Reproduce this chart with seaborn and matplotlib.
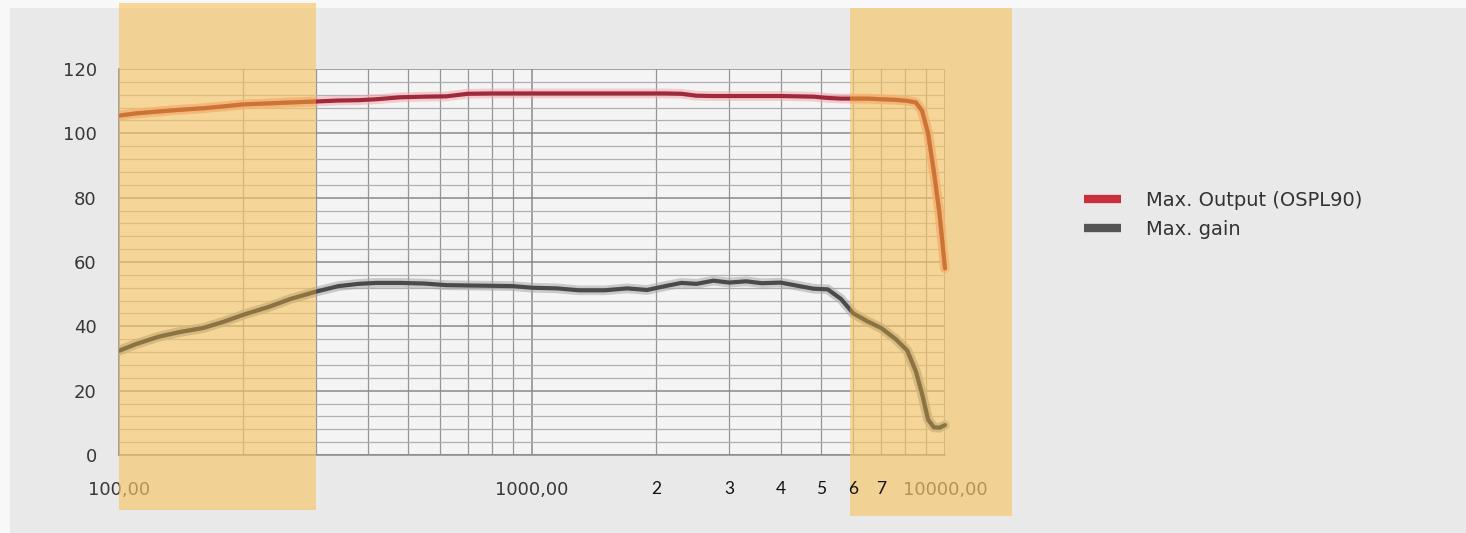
import numpy as np
import pandas as pd
import matplotlib
matplotlib.use("Agg")
import matplotlib.pyplot as plt
import matplotlib.ticker as mticker
import matplotlib.transforms as mtransforms
import matplotlib.patheffects as pe
from matplotlib.patches import Rectangle
from matplotlib.lines import Line2D
import seaborn as sns

# Frequency grid (Hz) shared by both curves
freq_hz = [100, 110, 125, 140, 160, 180, 200, 230, 260, 300, 340, 380, 420, 480,
           550, 620, 700, 800, 900, 1000, 1150, 1300, 1500, 1700, 1900, 2100,
           2300, 2500, 2750, 3000, 3300, 3600, 4000, 4400, 4800, 5200, 5600,
           6000, 6500, 7000, 7600, 8100, 8500, 8800, 9100, 9400, 9700, 10000]

# Maximum output, OSPL90 (dB SPL)
max_output = [105.5, 106.2, 106.8, 107.3, 107.8, 108.4, 109.0, 109.3, 109.6,
              109.9, 110.2, 110.3, 110.6, 111.2, 111.4, 111.5, 112.3, 112.4,
              112.4, 112.4, 112.4, 112.4, 112.4, 112.4, 112.4, 112.4, 112.3,
              111.7, 111.6, 111.6, 111.6, 111.6, 111.6, 111.5, 111.4, 111.0,
              110.8, 110.8, 110.8, 110.6, 110.4, 110.1, 109.6, 107.0, 100.0,
              88.0, 75.0, 58.0]

# Maximum gain (dB)
max_gain = [32.4, 34.5, 36.8, 38.2, 39.5, 41.5, 43.6, 46.0, 48.5, 50.8, 52.5,
            53.2, 53.5, 53.5, 53.3, 52.8, 52.7, 52.6, 52.5, 52.0, 51.8, 51.2,
            51.2, 51.8, 51.3, 52.5, 53.5, 53.2, 54.2, 53.6, 54.0, 53.4, 53.6,
            52.6, 51.7, 51.5, 48.5, 44.0, 41.5, 39.5, 36.0, 32.5, 26.0, 19.0,
            11.0, 8.6, 8.5, 9.3]

series_names = ["Max. Output (OSPL90)", "Max. gain"]
series_colors = ["#a02a3c", "#4a4a4a"]
series_halo = ["#f3a9b0", "#a8a8a8"]
# the same curves as seen through the highlight bands
band_line_colors = ["#cc7436", "#8c7442"]
band_halo_colors = ["#f2ae6a", "#cdb27a"]
legend_colors = ["#c8303c", "#555555"]

x_ticks = [100, 1000, 10000]
x_tick_labels = ["100,00", "1000,00", "10000,00"]
y_ticks = [0, 20, 40, 60, 80, 100, 120]

# Extra frequency markers under the axis (kHz)
khz_marks = [2, 3, 4, 5, 6, 7]

# Highlighted frequency ranges (Hz)
bands_hz = [(100, 300), (5900, 14500)]

df = pd.concat([
    pd.DataFrame({"freq": freq_hz, "level": max_output, "series": series_names[0]}),
    pd.DataFrame({"freq": freq_hz, "level": max_gain, "series": series_names[1]}),
])

sns.set_theme(style="white")
plt.rcParams["font.family"] = ["DejaVu Sans"]

W, H = 1466, 533
fig = plt.figure(figsize=(W / 100, H / 100), dpi=100, facecolor="#f8f8f8")

# Grey backdrop panel
fig.patches.append(Rectangle((10 / W, 0), 1, 1 - 8 / H, transform=fig.transFigure,
                             facecolor="#e9e9e9", edgecolor="none", zorder=-10))

rect = [119 / W, 1 - 455 / H, (945 - 119) / W, (455 - 69) / H]
ax = fig.add_axes(rect)
ax.set_facecolor("#f4f4f4")

sns.lineplot(data=df, x="freq", y="level", hue="series", palette=series_colors,
             linewidth=3.0, ax=ax, legend=False, zorder=3)
for line, hc in zip(ax.get_lines(), series_halo):
    line.set_path_effects([pe.Stroke(linewidth=7, foreground=hc, alpha=0.55), pe.Normal()])
    line.set_solid_capstyle("round")


def style_axes(a):
    a.set_xscale("log")
    a.set_xlim(100, 10000)
    a.set_ylim(0, 120)
    a.set_xlabel("")
    a.set_ylabel("")


style_axes(ax)
ax.xaxis.set_major_locator(mticker.FixedLocator(x_ticks))
ax.xaxis.set_major_formatter(mticker.FixedFormatter(x_tick_labels))
ax.xaxis.set_minor_locator(mticker.LogLocator(base=10, subs=np.arange(2, 10)))
ax.xaxis.set_minor_formatter(mticker.NullFormatter())
ax.yaxis.set_major_locator(mticker.FixedLocator(y_ticks))
ax.yaxis.set_minor_locator(mticker.MultipleLocator(4))

ax.grid(which="major", axis="both", color="#8a8a8a", linewidth=1.1, zorder=1)
ax.grid(which="minor", axis="y", color="#b0b0b0", linewidth=0.9, zorder=1)
ax.grid(which="minor", axis="x", color="#959595", linewidth=0.9, zorder=1)
ax.set_axisbelow(True)

for side in ["top", "right"]:
    ax.spines[side].set_visible(False)
for side in ["left", "bottom"]:
    ax.spines[side].set_color("#8a8a8a")
    ax.spines[side].set_linewidth(1.1)

ax.tick_params(axis="y", which="major", direction="out", length=5, width=1,
               color="#8a8a8a", pad=11, labelsize=13, labelcolor="#383838")
ax.tick_params(axis="x", which="major", direction="out", length=7, width=1,
               color="#8a8a8a", pad=11.5, labelsize=13, labelcolor="#383838")
ax.tick_params(axis="both", which="minor", length=0)

# Highlight bands drawn over the chart, spanning beyond the axes
band_tf = mtransforms.blended_transform_factory(ax.transData, fig.transFigure)
band_y = [(1 - 510 / H, 1 - 3 / H), (1 - 516 / H, 1 - 8 / H)]
band_rects = []
for (x0, x1), (y0, y1) in zip(bands_hz, band_y):
    r = Rectangle((x0, y0), x1 - x0, y1 - y0, transform=band_tf,
                  facecolor="#f7c667", alpha=0.65, edgecolor="none", zorder=5)
    fig.patches.append(r)
    band_rects.append(r)

# Curves re-drawn inside the bands with their tinted appearance
ax_band = fig.add_axes(rect, zorder=5.5)
ax_band.patch.set_visible(False)
ax_band.axis("off")
for r in band_rects:
    clip = Rectangle(r.get_xy(), r.get_width(), r.get_height(), transform=band_tf)
    for vals, c, hc in zip([max_output, max_gain], band_line_colors, band_halo_colors):
        ln, = ax_band.plot(freq_hz, vals, color=c, linewidth=3.0, solid_capstyle="round")
        ln.set_path_effects([pe.Stroke(linewidth=7, foreground=hc, alpha=0.6), pe.Normal()])
        ln.set_clip_path(clip)
style_axes(ax_band)

# kHz markers along the axis
for k in khz_marks:
    fig.text(k * 1000, 1 - 489 / H, str(k), transform=band_tf, ha="center",
             va="center", fontsize=12.5, color="#111111", family=["Lato", "DejaVu Sans"],
             zorder=6)

handles = [Line2D([0], [0], color=c, linewidth=6, solid_capstyle="butt")
           for c in legend_colors]
fig.legend(handles, series_names, loc="upper left", bbox_to_anchor=(1084 / W, 1 - 191 / H),
           frameon=False, fontsize=14, handlelength=1.9, handletextpad=1.3,
           labelspacing=0.5, borderpad=0, borderaxespad=0, labelcolor="#333333")

fig.savefig("out.png", dpi=100, facecolor=fig.get_facecolor())
